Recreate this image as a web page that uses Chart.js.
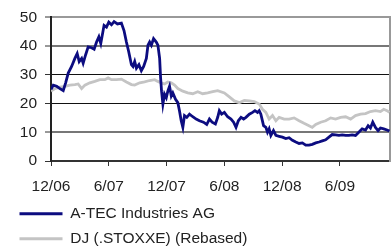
<!DOCTYPE html>
<html>
<head>
<meta charset="utf-8">
<script src="https://cdn.jsdelivr.net/npm/chart.js@4/dist/chart.umd.min.js"></script>
<style>
  html, body { margin: 0; padding: 0; background: #fff; }
  canvas { display: block; }
</style>
</head>
<body>
<canvas id="chart" width="392" height="250"></canvas>
<script>
// months since 12/06 on the x axis
const tickMonths = [0, 6, 12, 18, 24, 30]
const tickLabels = ['12/06', '6/07', '12/07', '6/08', '12/08', '6/09']

const atecMonths = [0, 0.24, 0.59, 0.93, 1.27, 1.52, 1.79, 2.14, 2.48, 2.72, 2.93, 3.18, 3.34, 3.59, 3.86, 4.21, 4.48, 4.73, 4.97, 5.17,
  5.51, 5.76, 6.00, 6.28, 6.55, 6.90, 7.31, 7.58, 7.83, 8.07, 8.35, 8.51, 8.69, 8.87, 9.13, 9.38, 9.62, 9.90, 10.07, 10.24,
  10.42, 10.65, 10.93, 11.10, 11.28, 11.38, 11.48, 11.62, 11.79, 11.97, 12.13, 12.31, 12.49, 12.65, 12.93, 13.17, 13.34, 13.52, 13.69, 13.86,
  14.10, 14.38, 14.72, 15.07, 15.41, 15.83, 16.17, 16.45, 16.73, 17.07, 17.31, 17.48, 17.72, 18.00, 18.34, 18.69, 18.96, 19.21, 19.45, 19.73,
  20.00, 20.24, 20.59, 20.93, 21.18, 21.44, 21.62, 21.79, 22.07, 22.31, 22.48, 22.65, 22.83, 23.10, 23.35, 23.69, 24.03, 24.38, 24.72, 25.07,
  25.42, 25.76, 26.10, 26.45, 26.79, 27.13, 27.49, 27.83, 28.17, 28.52, 28.86, 29.20, 29.55, 29.90, 30.24, 30.59, 30.93, 31.27, 31.62, 31.96,
  32.31, 32.66, 32.93, 33.17, 33.41, 33.69, 33.96, 34.21, 34.55, 34.89, 35.14]
const atecValues = [24.9, 26.4, 26.0, 25.2, 24.5, 27.2, 30.6, 32.9, 35.7, 37.4, 34.6, 35.7, 34.0, 36.9, 39.7, 39.4, 38.9, 41.4, 43.2, 40.9,
  47.2, 46.6, 48.3, 47.4, 48.5, 47.7, 48.0, 45.4, 41.4, 38.0, 33.5, 32.9, 34.6, 32.3, 33.5, 31.4, 32.9, 35.7, 40.3, 41.4,
  40.3, 42.6, 41.4, 40.3, 35.7, 28.9, 24.3, 19.8, 23.2, 22.0, 24.3, 26.0, 22.6, 23.7, 21.5, 20.3, 17.5, 14.0, 11.7, 15.8,
  15.2, 16.3, 15.4, 14.6, 14.0, 13.5, 12.7, 14.6, 13.5, 12.9, 15.2, 17.5, 16.3, 16.9, 15.4, 14.6, 13.5, 11.7, 14.0, 15.2,
  14.6, 15.2, 16.3, 16.9, 17.5, 16.9, 17.5, 16.3, 12.3, 11.7, 10.0, 11.2, 8.9, 10.6, 8.9, 8.6, 8.3, 7.8, 8.1, 7.2,
  6.6, 6.1, 6.3, 5.5, 5.5, 5.8, 6.3, 6.6, 7.0, 7.4, 8.3, 9.2, 9.1, 8.9, 9.1, 8.9, 8.9, 9.1, 8.9, 10.0,
  11.2, 10.8, 12.3, 11.5, 13.5, 11.7, 10.6, 11.5, 11.2, 10.8, 10.4]

const stoxxMonths = [0, 0.41, 0.93, 1.45, 1.97, 2.48, 2.82, 3.18, 3.52, 4.03, 4.55, 5.07, 5.59, 5.93, 6.28, 6.80, 7.31, 7.83, 8.35, 8.69,
  9.21, 9.72, 10.24, 10.76, 11.10, 11.45, 11.79, 12.13, 12.49, 12.83, 13.17, 13.69, 14.20, 14.72, 15.24, 15.75, 16.27, 16.79, 17.31, 18.00,
  18.52, 19.03, 19.55, 20.07, 20.59, 21.10, 21.62, 21.96, 22.31, 22.65, 23.00, 23.35, 23.69, 24.21, 24.72, 25.24, 25.76, 26.27, 26.79, 27.13,
  27.49, 28.00, 28.52, 29.04, 29.55, 30.07, 30.59, 31.11, 31.62, 32.14, 32.66, 33.17, 33.69, 34.21, 34.55, 34.89, 35.14]
const stoxxValues = [24.3, 25.2, 25.7, 26.0, 26.4, 26.6, 26.8, 25.2, 26.4, 27.2, 27.7, 28.3, 28.3, 28.9, 28.3, 28.3, 28.5, 27.5, 26.6, 26.4,
  27.2, 27.5, 28.0, 28.3, 27.7, 27.2, 26.8, 27.5, 27.2, 26.4, 25.2, 24.3, 23.7, 23.4, 24.1, 23.4, 23.7, 24.1, 24.5, 23.7,
  22.3, 20.9, 20.3, 21.1, 20.9, 20.7, 19.8, 18.0, 16.9, 14.6, 15.8, 14.0, 15.2, 14.6, 14.6, 15.0, 14.0, 13.1, 12.3, 11.7,
  12.7, 13.5, 14.0, 15.0, 14.6, 15.2, 15.4, 14.6, 15.8, 16.3, 16.5, 17.2, 17.5, 17.2, 18.0, 17.5, 16.9]

const toPoints = (xs, ys) => xs.map((x, i) => ({x: x, y: ys[i]}))

const font = {family: "'Liberation Sans', Arial, sans-serif", size: 15.5}
const textColor = '#222'

// the reference draws 50, 40 and 10 as soft 2px lines, 20 and 30 as crisp dark ones
const softLine = (v) => v === 50 || v === 40 || v === 10

new Chart(document.getElementById('chart'), {
  type: 'line',
  data: {
    datasets: [
      {
        label: 'A-TEC Industries AG',
        data: toPoints(atecMonths, atecValues),
        borderColor: '#0c0c80',
        borderWidth: 2.8,
        pointRadius: 0,
        tension: 0
      },
      {
        label: 'DJ (.STOXXE) (Rebased)',
        data: toPoints(stoxxMonths, stoxxValues),
        borderColor: '#c4c4c4',
        borderWidth: 2.8,
        pointRadius: 0,
        tension: 0
      }
    ]
  },
  options: {
    responsive: false,
    animation: false,
    devicePixelRatio: 1,
    layout: { padding: { left: 10, right: 0, top: 15, bottom: -6.5 } },
    plugins: {
      tooltip: { enabled: false },
      legend: {
        position: 'bottom',
        align: 'start',
        labels: {
          usePointStyle: true,
          pointStyle: 'line',
          pointStyleWidth: 43,
          padding: 9.5,
          color: textColor,
          font: font
        }
      }
    },
    scales: {
      x: {
        type: 'linear',
        min: 0,
        max: 35.2,
        afterBuildTicks: (s) => { s.ticks = tickMonths.map(v => ({value: v})) },
        afterFit: (s) => { s.height = 35.5 },
        ticks: {
          autoSkip: false,
          maxRotation: 0,
          padding: 11,
          color: textColor,
          font: font,
          callback: (v) => tickLabels[tickMonths.indexOf(v)]
        },
        grid: { drawOnChartArea: false, drawTicks: true, tickLength: 5, color: '#333', lineWidth: 1 },
        border: { color: '#333', width: 2 }
      },
      y: {
        min: 0,
        max: 50,
        afterFit: (s) => { s.width = 41 },
        ticks: { stepSize: 10, padding: 8, color: textColor, font: font },
        grid: {
          color: (c) => c.tick.value === 50 ? '#999' : (softLine(c.tick.value) ? '#777' : '#111'),
          lineWidth: (c) => softLine(c.tick.value) ? 2 : 1,
          tickColor: '#333',
          tickWidth: 1,
          tickLength: 6
        },
        border: { color: '#222', width: 2 }
      },
      y2: {
        position: 'right',
        afterFit: (s) => { s.width = 2 },
        ticks: { display: false },
        grid: { drawOnChartArea: false, drawTicks: false },
        border: { color: '#999', width: 2 }
      }
    }
  }
})
</script>
</body>
</html>
